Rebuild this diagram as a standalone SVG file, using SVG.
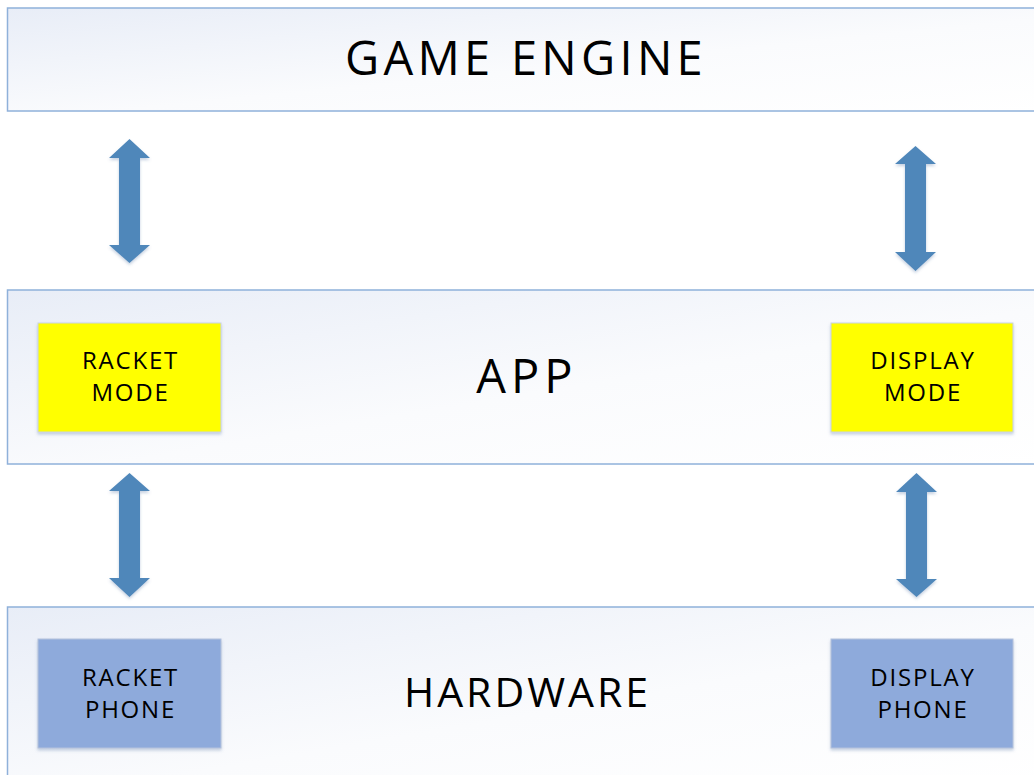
<svg xmlns="http://www.w3.org/2000/svg" width="1034" height="775" viewBox="0 0 1034 775">
  <style>
    .band { stroke: #8fb1da; stroke-width: 1.5; fill: url(#bandFill); }
    .mode { fill: #ffff00; stroke: #c9d3e3; stroke-width: 1; filter: url(#soft); }
    .phone { fill: #8eaadb; stroke: #b4c2dc; stroke-width: 1; filter: url(#soft); }
    .arrow { fill: #4f87ba; filter: url(#soft); }
    text { font-family: "Open Sans", "Liberation Sans", sans-serif; fill: #000; text-anchor: middle; }
    .title { font-size: 47px; letter-spacing: 4.3px; }
    .label { font-size: 24px; letter-spacing: 1.8px; }
  </style>
  <defs>
    <linearGradient id="bandFill" x1="0" y1="0" x2="1" y2="1">
      <stop offset="0" stop-color="#e8edf7"/>
      <stop offset="0.55" stop-color="#fafbfd"/>
      <stop offset="1" stop-color="#ffffff"/>
    </linearGradient>
    <filter id="soft" x="-10%" y="-10%" width="120%" height="120%">
      <feGaussianBlur in="SourceAlpha" stdDeviation="1.5"/>
      <feOffset dx="0" dy="1.5" result="b"/>
      <feFlood flood-color="#5a7aa8" flood-opacity="0.35"/>
      <feComposite in2="b" operator="in"/>
      <feMerge>
        <feMergeNode/>
        <feMergeNode in="SourceGraphic"/>
      </feMerge>
    </filter>
  </defs>

  <rect width="1034" height="775" fill="#ffffff"/>

  <!-- Layer: game engine -->
  <g id="game-engine">
    <rect class="band" x="7.5" y="8" width="1040" height="103"/>
    <text class="title" x="526" y="75">GAME ENGINE</text>
  </g>

  <!-- Layer: app -->
  <g id="app">
    <rect class="band" x="7.5" y="290" width="1040" height="174"/>
    <text class="title" x="527" y="393" style="letter-spacing:5px">APP</text>
  </g>

  <g id="racket-mode">
    <rect class="mode" x="38" y="323" width="183" height="109"/>
    <text class="label" x="130.5" y="369">RACKET</text>
    <text class="label" x="130.5" y="401">MODE</text>
  </g>

  <g id="display-mode">
    <rect class="mode" x="831" y="323" width="182" height="109"/>
    <text class="label" x="923" y="369">DISPLAY</text>
    <text class="label" x="923" y="401">MODE</text>
  </g>

  <!-- Layer: hardware -->
  <g id="hardware">
    <rect class="band" x="7.5" y="607" width="1040" height="180"/>
    <text class="title" x="527.5" y="707" style="font-size:41px;letter-spacing:3px">HARDWARE</text>
  </g>

  <g id="racket-phone">
    <rect class="phone" x="38" y="639" width="183" height="109"/>
    <text class="label" x="130.5" y="686">RACKET</text>
    <text class="label" x="130.5" y="718">PHONE</text>
  </g>

  <g id="display-phone">
    <rect class="phone" x="831" y="639" width="182" height="109"/>
    <text class="label" x="923" y="686">DISPLAY</text>
    <text class="label" x="923" y="718">PHONE</text>
  </g>

  <!-- Double-headed block arrows between layers -->
  <g id="connectors">
    <path class="arrow" d="M129.5 139 L150 158 L140 158 L140 245 L150 245 L129.5 263 L109 245 L119 245 L119 158 L109 158 Z"/>
    <path class="arrow" d="M915.5 146 L936 164 L926 164 L926 252 L936 252 L915.5 271 L895 252 L905 252 L905 164 L895 164 Z"/>
    <path class="arrow" d="M129.5 473 L150 491 L140 491 L140 578 L150 578 L129.5 597 L109 578 L119 578 L119 491 L109 491 Z"/>
    <path class="arrow" d="M916.5 473 L937 492 L927 492 L927 579 L937 579 L916.5 597 L896 579 L906 579 L906 492 L896 492 Z"/>
  </g>
</svg>
